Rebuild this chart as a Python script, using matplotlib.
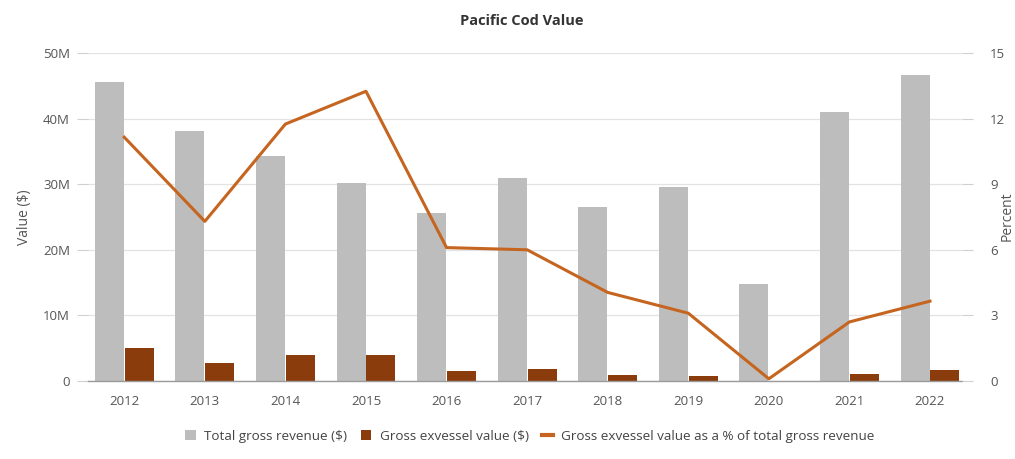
import matplotlib.pyplot as plt
import numpy as np
from matplotlib.lines import Line2D
from matplotlib.patches import Patch
from matplotlib.ticker import FuncFormatter

plt.rcParams["font.family"] = ["Open Sans", "DejaVu Sans"]

years = ["2012", "2013", "2014", "2015", "2016", "2017", "2018", "2019", "2020", "2021", "2022"]
total_revenue = [45.6, 38.1, 34.3, 30.2, 25.6, 30.9, 26.5, 29.6, 14.8, 41.0, 46.6]  # $M
exvessel_value = [5.1, 2.7, 3.9, 3.9, 1.5, 1.8, 0.9, 0.7, 0.0, 1.1, 1.6]  # $M
exvessel_pct = [11.15, 7.3, 11.75, 13.25, 6.1, 6.0, 4.05, 3.1, 0.1, 2.7, 3.65]

c_gray = "#bdbdbd"
c_brown = "#8a3c0d"
c_line = "#c5651f"
c_text = "#555555"
c_grid = "#e3e3e3"

fig = plt.figure(figsize=(10.15, 4.59), dpi=100)
ax = fig.add_axes([0.0867, 0.170, 0.8613, 0.7145])
ax2 = ax.twinx()

x = np.arange(len(years))
w = 0.36
ax.bar(x - w / 2 - 0.005, np.array(total_revenue) * 1e6, width=w, color=c_gray, zorder=2)
ax.bar(x + w / 2 + 0.005, np.array(exvessel_value) * 1e6, width=w, color=c_brown, zorder=2)
ax2.plot(x, exvessel_pct, color=c_line, lw=2.2, zorder=3)

ax.set_xlim(-0.45, len(years) - 1 + 0.4)
ax.set_ylim(0, 50e6)
ax.set_yticks(np.arange(0, 51e6, 10e6))
ax.yaxis.set_major_formatter(FuncFormatter(lambda v, p: "0" if v == 0 else f"{v / 1e6:.0f}M"))
ax2.set_ylim(0, 15)
ax2.set_yticks(np.arange(0, 16, 3))

ax.set_xticks(x)
ax.set_xticklabels(years)
ax.grid(axis="y", color=c_grid, lw=0.9, zorder=0)
ax.set_axisbelow(True)

for a in (ax, ax2):
    for s in a.spines.values():
        s.set_visible(False)
    a.tick_params(axis="both", labelsize=9.5, colors=c_text, length=8, width=0.8)
    a.tick_params(axis="y", color="#d0d0d0")
ax.tick_params(axis="x", length=0, pad=10)
ax.tick_params(axis="y", pad=5)
ax2.tick_params(axis="y", pad=12)
ax.spines["bottom"].set_visible(True)
ax.spines["bottom"].set_color("#9a9a9a")
ax.spines["bottom"].set_linewidth(1.0)

ax.set_ylabel("Value ($)", fontsize=10, color=c_text, labelpad=8)
fig.text(0.9925, 0.53, "Percent", rotation=90, ha="center", va="center", fontsize=10, color=c_text)
fig.text(0.514, 0.955, "Pacific Cod Value", ha="center", va="center",
         fontsize=10.5, fontweight="bold", color="#333333")

handles = [
    Patch(facecolor=c_gray, label="Total gross revenue ($)"),
    Patch(facecolor=c_brown, label="Gross exvessel value ($)"),
    Line2D([0], [0], color=c_line, lw=3, label="Gross exvessel value as a % of total gross revenue"),
]
leg = fig.legend(handles=handles, loc="center", bbox_to_anchor=(0.522, 0.05), ncol=3,
                 frameon=False, fontsize=9.7, handlelength=0.8, handleheight=0.8,
                 handletextpad=0.6, columnspacing=1.0)
for t in leg.get_texts():
    t.set_color("#444444")

fig.savefig("out.png", dpi=100)
